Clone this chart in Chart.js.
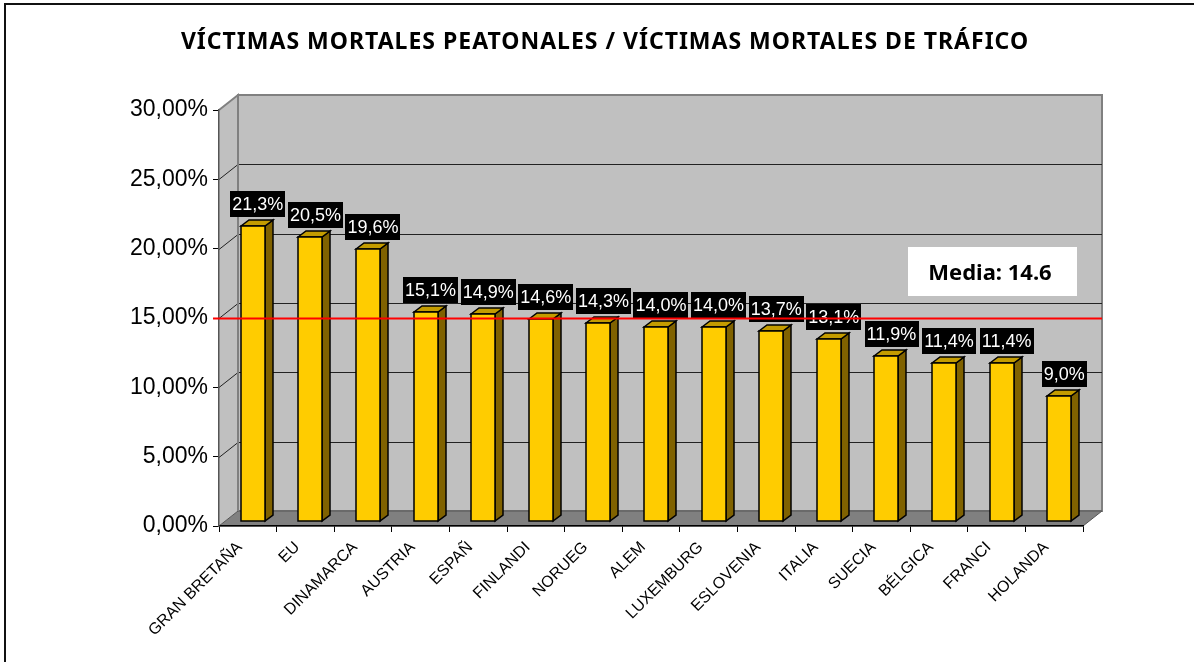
<!DOCTYPE html>
<html>
<head>
<meta charset="utf-8">
<script src="https://cdn.jsdelivr.net/npm/chart.js@4.4.1/dist/chart.umd.min.js"></script>
<style>
    html, body { margin: 0; padding: 0; background: #fff; }
    #wrap { position: relative; width: 1194px; height: 662px; }
</style>
</head>
<body>
<div id="wrap"><canvas id="myChart" width="1194" height="662"></canvas></div>
<script>
const titulo = 'VÍCTIMAS MORTALES PEATONALES / VÍCTIMAS MORTALES DE TRÁFICO';
const paises = ['GRAN BRETAÑA', 'EU', 'DINAMARCA', 'AUSTRIA', 'ESPAÑ', 'FINLANDI', 'NORUEG', 'ALEM',
    'LUXEMBURG', 'ESLOVENIA', 'ITALIA', 'SUECIA', 'BÉLGICA', 'FRANCI', 'HOLANDA'];
const porcentajes = [21.3, 20.5, 19.6, 15.1, 14.9, 14.6, 14.3, 14.0, 14.0, 13.7, 13.1, 11.9, 11.4, 11.4, 9.0];
const media = 14.6;
const ejeMin = 0;
const ejeMax = 30;
const ejePaso = 5;

// profundidad del "3D"
const paredDx = 19, paredDy = 15;
const barraShift = 5;
const barraDx = 8, barraDy = 6;

function poligono(ctx, pts, fill, stroke, lw) {
    ctx.beginPath();
    ctx.moveTo(pts[0][0], pts[0][1]);
    for (let i = 1; i < pts.length; i++) ctx.lineTo(pts[i][0], pts[i][1]);
    ctx.closePath();
    if (fill) { ctx.fillStyle = fill; ctx.fill(); }
    if (stroke) { ctx.strokeStyle = stroke; ctx.lineWidth = lw || 1; ctx.stroke(); }
}

const escena3d = {
    id: 'escena3d',
    beforeDraw(chart) {
        const ctx = chart.ctx;
        const { left, right, top, bottom } = chart.chartArea;
        const y = chart.scales.y;
        ctx.save();

        // marco exterior
        ctx.strokeStyle = '#111';
        ctx.lineWidth = 2;
        ctx.strokeRect(5, 4, 1400, 900);

        // titulo
        ctx.fillStyle = '#000';
        ctx.font = 'bold 23px "Noto Sans", sans-serif';
        ctx.letterSpacing = '1px';
        ctx.textAlign = 'center';
        ctx.textBaseline = 'middle';
        ctx.fillText(titulo, 605, 42);
        ctx.letterSpacing = '0px';

        // pared lateral, fondo y suelo
        poligono(ctx, [[left, top], [left + paredDx, top - paredDy], [left + paredDx, bottom - paredDy], [left, bottom]], '#c0c0c0');
        poligono(ctx, [[left + paredDx, top - paredDy], [right + paredDx, top - paredDy], [right + paredDx, bottom - paredDy], [left + paredDx, bottom - paredDy]], '#c0c0c0', '#808080', 2);
        poligono(ctx, [[left, bottom], [left + paredDx, bottom - paredDy], [right + paredDx, bottom - paredDy], [right, bottom]], '#808080', '#555', 1);

        // lineas de division
        ctx.lineWidth = 1;
        for (let v = ejeMin + ejePaso; v < ejeMax; v += ejePaso) {
            const yy = Math.round(y.getPixelForValue(v)) + 0.5;
            ctx.strokeStyle = '#222';
            ctx.beginPath();
            ctx.moveTo(left, yy);
            ctx.lineTo(left + paredDx, yy - paredDy);
            ctx.lineTo(right + paredDx, yy - paredDy);
            ctx.stroke();
        }
        ctx.strokeStyle = '#808080';
        ctx.lineWidth = 2;
        ctx.beginPath();
        ctx.moveTo(left, top);
        ctx.lineTo(left + paredDx, top - paredDy);
        ctx.lineTo(left + paredDx, bottom - paredDy);
        ctx.stroke();
        ctx.restore();
    },
    afterDatasetsDraw(chart) {
        const ctx = chart.ctx;
        const { left, right } = chart.chartArea;
        const y = chart.scales.y;
        const meta = chart.getDatasetMeta(0);
        ctx.save();

        // barras en 3D
        meta.data.forEach((bar) => {
            const w = bar.width;
            const x0 = Math.round(bar.x - w / 2 + barraShift);
            const x1 = x0 + Math.round(w);
            const yTop = Math.round(bar.y - barraShift);
            const yBase = Math.round(bar.base - barraShift);
            poligono(ctx, [[x1, yTop], [x1 + barraDx, yTop - barraDy], [x1 + barraDx, yBase - barraDy], [x1, yBase]], '#806200', '#000', 1.5);
            poligono(ctx, [[x0, yTop], [x0 + barraDx, yTop - barraDy], [x1 + barraDx, yTop - barraDy], [x1, yTop]], '#c49c00', '#000', 1.5);
            poligono(ctx, [[x0, yTop], [x1, yTop], [x1, yBase], [x0, yBase]], '#ffcc00', '#000', 1.5);
        });

        // etiquetas de valor
        ctx.font = '18px "Liberation Sans", Arial, sans-serif';
        ctx.textAlign = 'center';
        ctx.textBaseline = 'middle';
        meta.data.forEach((bar, i) => {
            const txt = porcentajes[i].toFixed(1).replace('.', ',') + '%';
            const tw = ctx.measureText(txt).width + 4;
            const cx = bar.x + 10;
            const yBottom = bar.y - barraShift - 9;
            ctx.fillStyle = '#000';
            ctx.fillRect(Math.round(cx - tw / 2), Math.round(yBottom - 26), Math.round(tw), 26);
            ctx.fillStyle = '#fff';
            ctx.fillText(txt, cx, yBottom - 12);
        });

        // linea de la media
        const ym = y.getPixelForValue(media) - barraShift;
        ctx.strokeStyle = '#ff0000';
        ctx.lineWidth = 2;
        ctx.beginPath();
        ctx.moveTo(left - 6, ym);
        ctx.lineTo(right + paredDx, ym);
        ctx.stroke();

        // cuadro de la media
        const bx = right - 175, by = Math.round(y.getPixelForValue(20)) - 2;
        ctx.fillStyle = '#fff';
        ctx.fillRect(bx, by, 169, 49);
        ctx.fillStyle = '#000';
        ctx.font = 'bold 22px "Noto Sans", sans-serif';
        ctx.fillText('Media: ' + media, bx + 82, by + 27);
        ctx.restore();
    }
};

const ctx = document.getElementById('myChart');

new Chart(ctx, {
    type: 'bar',
    data: {
        labels: paises,
        datasets: [{
            label: titulo,
            data: porcentajes,
            backgroundColor: 'rgba(0,0,0,0)',
            borderWidth: 0,
            barPercentage: 0.42,
            categoryPercentage: 1
        }]
    },
    options: {
        responsive: false,
        animation: false,
        layout: { padding: { top: 110, right: 111, left: 0, bottom: 0 } },
        plugins: {
            legend: { display: false },
            tooltip: { enabled: false },
            title: { display: false }
        },
        scales: {
            x: {
                afterFit(scale) { scale.height = 136; },
                grid: { drawOnChartArea: false, color: '#000', tickLength: 6, offset: true },
                border: { color: '#000', width: 1.5 },
                ticks: {
                    color: '#000',
                    font: { family: '"Liberation Sans", Arial, sans-serif', size: 16 },
                    minRotation: 45,
                    maxRotation: 45,
                    autoSkip: false,
                    labelOffset: -8,
                    padding: 6
                }
            },
            y: {
                min: ejeMin,
                max: ejeMax,
                afterFit(scale) { scale.width = 219; },
                grid: { drawOnChartArea: false, color: '#000', tickLength: 6 },
                border: { color: '#555', width: 1.5 },
                ticks: {
                    stepSize: ejePaso,
                    color: '#000',
                    padding: 5,
                    font: { family: '"Liberation Sans", Arial, sans-serif', size: 23 },
                    callback: (v) => v.toFixed(2).replace('.', ',') + '%'
                }
            }
        }
    },
    plugins: [escena3d]
});
</script>
</body>
</html>
